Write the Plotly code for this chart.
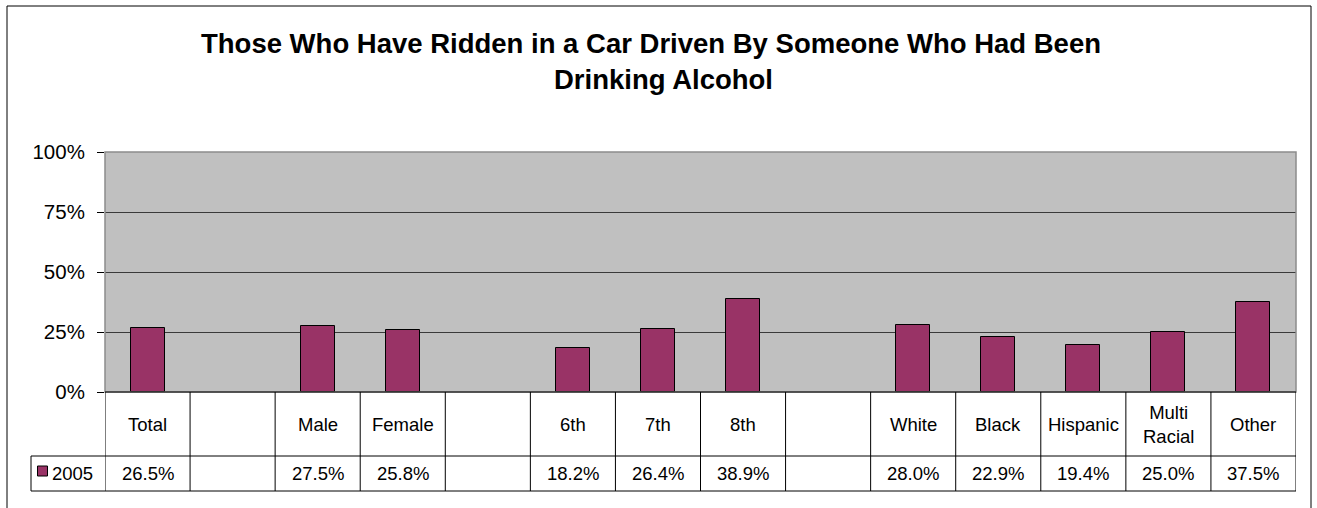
import plotly.graph_objects as go

# data
categories = ["Total", "", "Male", "Female", "", "6th", "7th", "8th", "",
              "White", "Black", "Hispanic", "Multi<br>Racial", "Other"]
values_2005 = [26.5, None, 27.5, 25.8, None, 18.2, 26.4, 38.9, None,
               28.0, 22.9, 19.4, 25.0, 37.5]
series_name = "2005"
y_ticks = [0, 25, 50, 75, 100]
y_tick_labels = ["0%", "25%", "50%", "75%", "100%"]

TITLE_1 = "Those Who Have Ridden in a Car Driven By Someone Who Had Been"
TITLE_2 = "Drinking Alcohol"

MAROON = "#993366"
FONT = "Arial, Liberation Sans, sans-serif"

W, H = 1317, 508
L, R, T, B = 105, 21, 152, 116
PW, PH = W - L - R, H - T - B


def px_x(p):
    return (p - L) / PW


def px_y(p):
    return (H - B - p) / PH


x_idx = list(range(len(categories)))

fig = go.Figure()
fig.add_trace(go.Bar(
    x=x_idx, y=values_2005, width=0.4, name=series_name,
    marker=dict(color=MAROON, line=dict(color="#000000", width=1)),
    showlegend=False,
))

shapes = []
# plot area border (gray), bottom axis line black
shapes.append(dict(type="rect", xref="paper", yref="paper", x0=0, x1=1, y0=0, y1=1,
                   line=dict(color="#8c8c8c", width=1.5), layer="above"))
shapes.append(dict(type="line", xref="paper", yref="paper", x0=0, x1=1, y0=0, y1=0,
                   line=dict(color="#000000", width=1), layer="above"))
# outer chart border
shapes.append(dict(type="rect", xref="paper", yref="paper",
                   x0=px_x(7), x1=px_x(1311), y0=px_y(530), y1=px_y(6),
                   line=dict(color="#000000", width=1)))

# data table grid
row1_bottom, row2_bottom = px_y(456), px_y(491)
for i in range(len(categories) + 1):
    shapes.append(dict(type="line", xref="x", yref="paper", x0=i - 0.5, x1=i - 0.5,
                       y0=0, y1=row2_bottom, line=dict(color="#000000", width=1)))
for yy in (row1_bottom, row2_bottom):
    shapes.append(dict(type="line", xref="paper", yref="paper", x0=px_x(31), x1=1,
                       y0=yy, y1=yy, line=dict(color="#000000", width=1)))
shapes.append(dict(type="line", xref="paper", yref="paper", x0=px_x(31), x1=px_x(31),
                   y0=row1_bottom, y1=row2_bottom, line=dict(color="#000000", width=1)))
# legend key
shapes.append(dict(type="rect", xref="paper", yref="paper",
                   x0=px_x(37.5), x1=px_x(47.5), y0=px_y(476), y1=px_y(466),
                   fillcolor=MAROON, line=dict(color="#000000", width=1)))

annotations = []
for i, (c, v) in enumerate(zip(categories, values_2005)):
    if c:
        annotations.append(dict(x=i, y=px_y(424), xref="x", yref="paper", text=c,
                                showarrow=False, xanchor="center", yanchor="middle",
                                font=dict(family=FONT, size=18.5, color="#000000")))
    if v is not None:
        annotations.append(dict(x=i, y=px_y(473), xref="x", yref="paper", text=f"{v:.1f}%",
                                showarrow=False, xanchor="center", yanchor="middle",
                                font=dict(family=FONT, size=18.5, color="#000000")))
annotations.append(dict(x=px_x(50), y=px_y(473), xref="paper", yref="paper", text=series_name,
                        showarrow=False, xanchor="left", yanchor="middle",
                        font=dict(family=FONT, size=18.5, color="#000000")))
# title
annotations.append(dict(x=px_x(651), y=px_y(43), xref="paper", yref="paper",
                        text="<b>" + TITLE_1 + "</b>", showarrow=False,
                        xanchor="center", yanchor="middle",
                        font=dict(family=FONT, size=27.5, color="#000000")))
annotations.append(dict(x=px_x(663), y=px_y(79), xref="paper", yref="paper",
                        text="<b>" + TITLE_2 + "</b>", showarrow=False,
                        xanchor="center", yanchor="middle",
                        font=dict(family=FONT, size=27.5, color="#000000")))

fig.update_layout(
    width=W, height=H,
    margin=dict(l=L, r=R, t=T, b=B, autoexpand=False),
    paper_bgcolor="#FFFFFF",
    plot_bgcolor="#C0C0C0",
    font=dict(family=FONT, color="#000000"),
    shapes=shapes,
    annotations=annotations,
    bargap=0,
)
fig.update_xaxes(range=[-0.5, len(categories) - 0.5], showticklabels=False,
                 showgrid=False, zeroline=False, ticks="", fixedrange=True)
fig.update_yaxes(range=[0, 100], tickvals=y_ticks, ticktext=y_tick_labels,
                 showgrid=True, gridcolor="#3a3a3a", gridwidth=1, zeroline=False,
                 ticks="outside", ticklen=7, tickcolor="#000000",
                 ticklabelstandoff=8,
                 tickfont=dict(family=FONT, size=20.5, color="#000000"),
                 showline=False, fixedrange=True)

# drop the default page margin so the figure sits at the window's corner
fig.write_html("out.html", config={"displayModeBar": False},
               post_script="document.body.style.margin='0';")
